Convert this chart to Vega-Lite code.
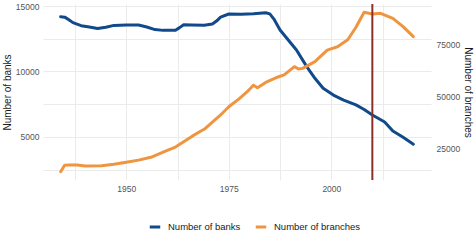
{
  "$schema": "https://vega.github.io/schema/vega-lite/v6.json",
  "width": 388,
  "height": 176,
  "autosize": {"type": "none"},
  "padding": {"left": 43, "top": 4, "right": 43, "bottom": 62},
  "background": "white",
  "config": {
    "view": {"stroke": null},
    "font": "Liberation Sans",
    "axis": {"domain": false, "ticks": false, "gridColor": "#ebebeb", "gridWidth": 1, "labelColor": "#555555", "labelFontSize": 8.5, "titleFontSize": 10, "titleFontWeight": "normal", "titleColor": "#1a1a1a"}
  },
  "datasets": {
    "series": [
      {"year": 1934, "series": "Number of banks", "value": 14180},
      {"year": 1935, "series": "Number of banks", "value": 14150},
      {"year": 1936, "series": "Number of banks", "value": 13950},
      {"year": 1937, "series": "Number of banks", "value": 13730},
      {"year": 1939, "series": "Number of banks", "value": 13500},
      {"year": 1941, "series": "Number of banks", "value": 13400},
      {"year": 1943, "series": "Number of banks", "value": 13280},
      {"year": 1945, "series": "Number of banks", "value": 13380},
      {"year": 1947, "series": "Number of banks", "value": 13520},
      {"year": 1950, "series": "Number of banks", "value": 13550},
      {"year": 1953, "series": "Number of banks", "value": 13550},
      {"year": 1955, "series": "Number of banks", "value": 13400},
      {"year": 1957, "series": "Number of banks", "value": 13200},
      {"year": 1959, "series": "Number of banks", "value": 13140},
      {"year": 1962, "series": "Number of banks", "value": 13150},
      {"year": 1963, "series": "Number of banks", "value": 13350},
      {"year": 1964, "series": "Number of banks", "value": 13570},
      {"year": 1966, "series": "Number of banks", "value": 13550},
      {"year": 1969, "series": "Number of banks", "value": 13530},
      {"year": 1971, "series": "Number of banks", "value": 13620},
      {"year": 1972, "series": "Number of banks", "value": 13850},
      {"year": 1973, "series": "Number of banks", "value": 14150},
      {"year": 1975, "series": "Number of banks", "value": 14390},
      {"year": 1978, "series": "Number of banks", "value": 14370},
      {"year": 1981, "series": "Number of banks", "value": 14410},
      {"year": 1984, "series": "Number of banks", "value": 14490},
      {"year": 1985, "series": "Number of banks", "value": 14400},
      {"year": 1986, "series": "Number of banks", "value": 14000},
      {"year": 1987.5, "series": "Number of banks", "value": 13170},
      {"year": 1989.5, "series": "Number of banks", "value": 12400},
      {"year": 1991.5, "series": "Number of banks", "value": 11640},
      {"year": 1994, "series": "Number of banks", "value": 10370},
      {"year": 1996, "series": "Number of banks", "value": 9480},
      {"year": 1998, "series": "Number of banks", "value": 8720},
      {"year": 2000.5, "series": "Number of banks", "value": 8200},
      {"year": 2003, "series": "Number of banks", "value": 7820},
      {"year": 2006, "series": "Number of banks", "value": 7450},
      {"year": 2008, "series": "Number of banks", "value": 7100},
      {"year": 2010, "series": "Number of banks", "value": 6680},
      {"year": 2013, "series": "Number of banks", "value": 6150},
      {"year": 2015, "series": "Number of banks", "value": 5460},
      {"year": 2017.5, "series": "Number of banks", "value": 4980},
      {"year": 2020, "series": "Number of banks", "value": 4450},
      {"year": 1934, "series": "Number of branches", "value": 14200},
      {"year": 1935, "series": "Number of branches", "value": 17300},
      {"year": 1936, "series": "Number of branches", "value": 17400},
      {"year": 1938, "series": "Number of branches", "value": 17380},
      {"year": 1940, "series": "Number of branches", "value": 16950},
      {"year": 1944, "series": "Number of branches", "value": 17050},
      {"year": 1947, "series": "Number of branches", "value": 17700},
      {"year": 1950, "series": "Number of branches", "value": 18650},
      {"year": 1953, "series": "Number of branches", "value": 19700},
      {"year": 1956, "series": "Number of branches", "value": 21050},
      {"year": 1958, "series": "Number of branches", "value": 22700},
      {"year": 1960, "series": "Number of branches", "value": 24300},
      {"year": 1962, "series": "Number of branches", "value": 25900},
      {"year": 1964, "series": "Number of branches", "value": 28400},
      {"year": 1966, "series": "Number of branches", "value": 31000},
      {"year": 1968, "series": "Number of branches", "value": 33300},
      {"year": 1969, "series": "Number of branches", "value": 34400},
      {"year": 1971, "series": "Number of branches", "value": 37800},
      {"year": 1973, "series": "Number of branches", "value": 41200},
      {"year": 1975, "series": "Number of branches", "value": 45100},
      {"year": 1977.5, "series": "Number of branches", "value": 48900},
      {"year": 1979.5, "series": "Number of branches", "value": 52300},
      {"year": 1981, "series": "Number of branches", "value": 55400},
      {"year": 1982, "series": "Number of branches", "value": 54200},
      {"year": 1984, "series": "Number of branches", "value": 56700},
      {"year": 1987, "series": "Number of branches", "value": 59300},
      {"year": 1988.5, "series": "Number of branches", "value": 60300},
      {"year": 1991, "series": "Number of branches", "value": 64200},
      {"year": 1992, "series": "Number of branches", "value": 63100},
      {"year": 1993, "series": "Number of branches", "value": 63400},
      {"year": 1996, "series": "Number of branches", "value": 66600},
      {"year": 1999, "series": "Number of branches", "value": 72100},
      {"year": 2001.5, "series": "Number of branches", "value": 73700},
      {"year": 2004, "series": "Number of branches", "value": 77000},
      {"year": 2006, "series": "Number of branches", "value": 83000},
      {"year": 2008, "series": "Number of branches", "value": 90100},
      {"year": 2010, "series": "Number of branches", "value": 89300},
      {"year": 2012, "series": "Number of branches", "value": 89600},
      {"year": 2015, "series": "Number of branches", "value": 87200},
      {"year": 2017.5, "series": "Number of branches", "value": 83300},
      {"year": 2020, "series": "Number of branches", "value": 78500}
    ],
    "marker": [{"year": 2010}]
  },
  "layer": [
    {
      "data": {"name": "series"},
      "transform": [{"filter": "datum.series === 'Number of banks'"}],
      "mark": {"type": "line", "strokeWidth": 3, "strokeCap": "round", "strokeJoin": "round"},
      "encoding": {
        "x": {"field": "year", "type": "quantitative", "scale": {"domain": [1929.7, 2024.3], "nice": false, "zero": false},
              "axis": {"title": null, "values": [1937.5, 1950, 1962.5, 1975, 1987.5, 2000, 2012.5], "labelExpr": "datum.value % 25 === 0 ? datum.value : ''", "labelPadding": 4, "format": "d"}},
        "y": {"field": "value", "type": "quantitative", "scale": {"domain": [1717, 15153], "nice": false, "zero": false},
              "axis": {"title": "Number of banks", "orient": "left", "values": [2500, 5000, 7500, 10000, 12500, 15000], "labelExpr": "datum.value % 5000 === 0 ? datum.value : ''", "format": "d", "labelPadding": 4, "titlePadding": 3}},
        "color": {"field": "series", "type": "nominal",
                  "scale": {"domain": ["Number of banks", "Number of branches"], "range": ["#114a8b", "#f0953f"]},
                  "legend": {"title": null, "orient": "none", "legendX": 105, "legendY": 216, "direction": "horizontal", "symbolType": "stroke", "symbolStrokeWidth": 3, "symbolSize": 110, "labelFontSize": 9.5, "labelColor": "#1a1a1a", "columnPadding": 8, "labelOffset": 6}}
      }
    },
    {
      "data": {"name": "series"},
      "transform": [{"filter": "datum.series === 'Number of branches'"}],
      "mark": {"type": "line", "strokeWidth": 3, "strokeCap": "round", "strokeJoin": "round"},
      "encoding": {
        "x": {"field": "year", "type": "quantitative"},
        "y": {"field": "value", "type": "quantitative", "scale": {"domain": [10237, 94048], "nice": false, "zero": false},
              "axis": {"title": "Number of branches", "orient": "right", "grid": false, "values": [25000, 50000, 75000], "format": "d", "labelPadding": 5, "titlePadding": 3}},
        "color": {"field": "series", "type": "nominal"}
      }
    },
    {
      "data": {"name": "marker"},
      "mark": {"type": "rule", "color": "#8b2f2a", "strokeWidth": 2},
      "encoding": {"x": {"field": "year", "type": "quantitative"}}
    }
  ],
  "resolve": {"scale": {"y": "independent"}}
}
